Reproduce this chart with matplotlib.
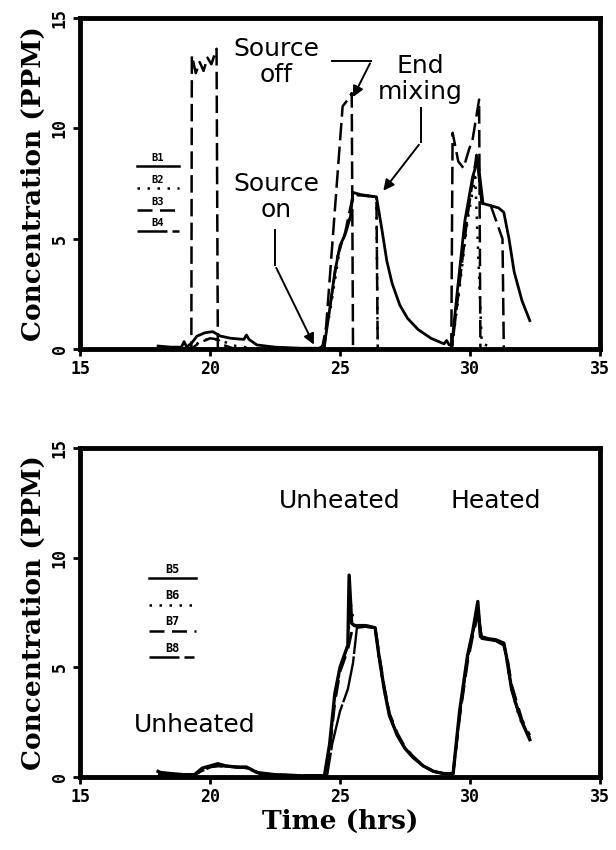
import matplotlib
matplotlib.use("Agg")
import matplotlib.pyplot as plt

# ---- top panel: runs B1-B4 ----
b1_t = [18.0, 18.5, 18.9, 19.0, 19.1, 19.3, 19.5, 19.8, 20.1, 20.4, 20.8, 21.3, 21.4, 21.5,
        21.8, 22.5, 23.5, 24.2, 24.4, 24.6, 24.8, 25.0, 25.2, 25.4, 25.5, 25.8, 26.1, 26.4,
        26.6, 26.8, 27.0, 27.3, 27.6, 28.0, 28.5, 29.0, 29.1, 29.2, 29.3, 29.5, 29.8, 30.1,
        30.3, 30.5, 30.8, 31.1, 31.3, 31.5, 31.7, 32.0, 32.3]
b1_c = [0.15, 0.1, 0.1, 0.35, 0.1, 0.3, 0.6, 0.75, 0.8, 0.6, 0.5, 0.45, 0.65, 0.45,
        0.2, 0.1, 0.05, 0.05, 0.2, 1.8, 3.5, 4.7, 5.2, 6.0, 7.1, 7.0, 6.95, 6.9,
        5.5, 4.0, 3.0, 2.0, 1.4, 0.9, 0.5, 0.25, 0.4, 0.2, 0.2, 2.5, 5.8, 7.8,
        8.6, 6.6, 6.5, 6.4, 6.2, 5.0, 3.5, 2.2, 1.3]

b2_t = [18.0, 19.3, 19.6, 20.0, 20.4, 21.0, 22.0, 24.3, 24.6, 25.0, 25.4, 25.5, 26.4,
        26.45, 29.3, 29.6, 29.9, 30.2, 30.45, 30.6, 31.0, 32.0]
b2_c = [0.0, 0.05, 0.35, 0.5, 0.4, 0.15, 0.0, 0.0, 1.6, 4.6, 6.0, 7.0, 6.9,
        0.0, 0.0, 2.8, 5.8, 7.8, 0.3, 0.2, 0.0, 0.0]

b3_t = [18.0, 19.28, 19.3, 19.45, 19.6, 19.75, 19.9, 20.05, 20.25, 20.3, 24.3, 24.4,
        25.1, 25.3, 25.45, 25.5, 29.28, 29.33, 29.55, 29.75, 29.95, 30.1, 30.35, 30.4, 32.0]
b3_c = [0.0, 0.0, 13.3, 12.5, 13.0, 12.6, 13.2, 12.9, 13.6, 0.0, 0.0, 0.0,
        11.0, 11.3, 11.6, 0.0, 0.0, 9.8, 8.5, 8.2, 9.0, 9.5, 11.3, 0.0, 0.0]

b4_t = [18.0, 19.3, 19.6, 20.0, 20.3, 20.5, 21.0, 24.3, 24.6, 24.9, 25.2, 25.5, 26.4,
        26.45, 29.3, 29.6, 29.9, 30.25, 30.45, 30.8, 31.25, 31.3, 32.0]
b4_c = [0.0, 0.05, 0.3, 0.5, 0.45, 0.2, 0.0, 0.0, 1.8, 4.2, 5.3, 7.0, 6.9,
        0.0, 0.0, 3.0, 6.0, 8.8, 6.6, 6.5, 5.0, 0.0, 0.0]

# ---- bottom panel: runs B5-B8 ----
b5_t = [18.0, 18.1, 18.5, 19.0, 19.4, 19.7, 20.0, 20.3, 20.6, 21.0, 21.4, 21.8, 22.5,
        23.5, 24.0, 24.4, 24.6, 24.8, 25.0, 25.15, 25.3, 25.35, 25.45, 25.55, 26.0, 26.35,
        26.5, 26.7, 26.9, 27.2, 27.5, 27.8, 28.2, 28.6, 29.0, 29.35, 29.6, 29.9, 30.1,
        30.3, 30.4, 30.7, 31.0, 31.3, 31.4, 31.6, 31.8, 32.0, 32.3]
b5_c = [0.25, 0.2, 0.15, 0.1, 0.1, 0.4, 0.5, 0.6, 0.5, 0.45, 0.45, 0.2, 0.1,
        0.05, 0.05, 0.05, 1.5, 3.8, 5.0, 5.5, 6.0, 9.2, 7.0, 6.9, 6.9, 6.8,
        5.5, 4.0, 2.8, 1.9, 1.3, 0.9, 0.5, 0.25, 0.15, 0.15, 3.0, 5.5, 6.6,
        8.0, 6.4, 6.3, 6.25, 6.1, 5.5, 4.0, 3.2, 2.5, 1.7]

b6_t = [18.0, 19.4, 20.0, 20.3, 21.0, 21.5, 22.0, 24.4, 24.6, 24.8, 25.0, 25.3, 25.4,
        25.55, 26.0, 26.35, 26.5, 26.7, 26.9, 27.2, 27.5, 27.8, 28.2, 28.6, 29.0, 29.35,
        29.6, 29.9, 30.1, 30.3, 30.4, 30.7, 31.0, 31.3, 31.4, 31.6, 31.8, 32.0, 32.3]
b6_c = [0.1, 0.1, 0.5, 0.55, 0.45, 0.4, 0.1, 0.05, 1.4, 3.6, 4.9, 6.0, 8.0,
        6.9, 6.9, 6.8, 5.4, 3.9, 2.8, 1.9, 1.3, 0.9, 0.5, 0.25, 0.15, 0.15,
        2.9, 5.4, 6.5, 7.6, 6.4, 6.3, 6.2, 6.1, 5.4, 4.0, 3.1, 2.4, 1.8]

b7_t = [18.0, 19.4, 20.0, 20.3, 21.0, 21.5, 22.0, 24.4, 24.6, 24.8, 25.0, 25.3, 25.5,
        26.0, 26.35, 26.5, 26.7, 26.9, 27.2, 27.5, 27.8, 28.2, 28.6, 29.0, 29.35, 29.6,
        29.9, 30.1, 30.3, 30.45, 30.7, 31.0, 31.3, 31.45, 31.6, 31.8, 32.0, 32.3]
b7_c = [0.1, 0.1, 0.45, 0.5, 0.45, 0.4, 0.1, 0.05, 1.2, 3.4, 4.8, 5.8, 6.9,
        6.85, 6.8, 5.6, 4.1, 2.9, 2.0, 1.35, 0.95, 0.5, 0.25, 0.15, 0.15, 2.7,
        5.2, 6.4, 7.4, 6.35, 6.3, 6.2, 6.0, 5.3, 4.2, 3.4, 2.6, 1.9]

b8_t = [18.0, 19.4, 20.0, 20.3, 21.0, 21.5, 22.0, 24.5, 24.7, 25.0, 25.3, 25.5, 25.65,
        26.0, 26.35, 26.5, 26.7, 26.9, 27.2, 27.5, 27.8, 28.2, 28.6, 29.0, 29.35, 29.6,
        29.9, 30.1, 30.3, 30.45, 30.7, 31.0, 31.3, 31.4, 31.6, 31.8, 32.0, 32.3]
b8_c = [0.1, 0.1, 0.45, 0.5, 0.45, 0.4, 0.1, 0.05, 1.5, 3.0, 4.0, 5.2, 6.8,
        6.85, 6.8, 5.5, 4.0, 2.8, 1.9, 1.3, 0.9, 0.5, 0.25, 0.15, 0.15, 2.8,
        5.3, 6.5, 7.8, 6.3, 6.25, 6.2, 6.1, 5.5, 4.0, 3.2, 2.5, 1.8]

top_runs = ["B1", "B2", "B3", "B4"]
bottom_runs = ["B5", "B6", "B7", "B8"]
x_ticks = [15, 20, 25, 30, 35]
y_ticks = [0, 5, 10, 15]

styles = ["-", (0, (1, 3)), (0, (6, 3)), (0, (12, 2, 4, 2))]
legend_y_top = [8.3, 7.3, 6.3, 5.35]
legend_y_bot = [9.05, 7.85, 6.65, 5.45]

tick_font = dict(family="DejaVu Sans Mono", weight="bold", size=12)
label_font = dict(family="DejaVu Serif", weight="bold", size=19)
note_font = dict(family="DejaVu Sans", size=18)

fig = plt.figure(figsize=(6.16, 8.5), dpi=100)
ax1 = fig.add_axes([0.13, 0.589, 0.844, 0.39])
ax2 = fig.add_axes([0.13, 0.086, 0.844, 0.387])


def style_axes(ax):
    ax.set_xlim(15, 35)
    ax.set_ylim(0, 15)
    ax.set_xticks(x_ticks)
    ax.set_yticks(y_ticks)
    ax.set_xticklabels([str(t) for t in x_ticks], fontdict=tick_font)
    ax.set_yticklabels([str(t) for t in y_ticks], fontdict=tick_font,
                       rotation=90, va="center")
    for s in ax.spines.values():
        s.set_linewidth(3.5)
    ax.tick_params(direction="out", length=5, width=2, pad=3)
    ax.set_ylabel("Concentration (PPM)", fontdict=label_font, labelpad=4)


def draw_key(ax, names, ys, x0, x1, fs):
    for name, st, y in zip(names, styles, ys):
        ax.plot([x0, x1], [y, y], color="black", linestyle=st, lw=1.8)
        ax.text((x0 + x1) / 2, y + 0.12, name, ha="center", va="bottom",
                family="DejaVu Sans Mono", weight="bold", fontsize=fs)


# top panel
ax1.plot(b1_t, b1_c, color="black", lw=2.0, linestyle=styles[0])
ax1.plot(b2_t, b2_c, color="black", lw=1.8, linestyle=styles[1])
ax1.plot(b3_t, b3_c, color="black", lw=1.8, linestyle=(0, (7, 2.5)))
ax1.plot(b4_t, b4_c, color="black", lw=1.8, linestyle=(0, (7, 2.5)))
style_axes(ax1)
draw_key(ax1, top_runs, legend_y_top, 17.2, 18.8, 7.5)

arrow = dict(arrowstyle="-|>", color="black", lw=1.4, mutation_scale=16)
ax1.text(22.54, 13.0, "Source\noff", ha="center", va="center",
         linespacing=1.1, **note_font)
ax1.plot([24.7, 26.2], [13.05, 13.05], color="black", lw=1.4)
ax1.annotate("", xy=(25.45, 11.3), xytext=(26.2, 13.05), arrowprops=arrow)
ax1.text(28.1, 12.25, "End\nmixing", ha="center", va="center",
         linespacing=1.1, **note_font)
ax1.plot([28.1, 28.1], [10.9, 9.36], color="black", lw=1.4)
ax1.annotate("", xy=(26.6, 7.08), xytext=(28.1, 9.36), arrowprops=arrow)
ax1.text(22.54, 6.9, "Source\non", ha="center", va="center",
         linespacing=1.1, **note_font)
ax1.plot([22.5, 22.5], [5.4, 3.8], color="black", lw=1.4)
ax1.annotate("", xy=(24.04, 0.1), xytext=(22.5, 3.8), arrowprops=arrow)

# bottom panel
ax2.plot(b5_t, b5_c, color="black", lw=2.4, linestyle=styles[0])
ax2.plot(b6_t, b6_c, color="black", lw=1.8, linestyle=styles[1])
ax2.plot(b7_t, b7_c, color="black", lw=2.0, linestyle=styles[2])
ax2.plot(b8_t, b8_c, color="black", lw=1.7, linestyle=(0, (20, 1)))
style_axes(ax2)
draw_key(ax2, bottom_runs, legend_y_bot, 17.65, 19.45, 8.5)
ax2.text(25.0, 12.6, "Unheated", ha="center", va="center", **note_font)
ax2.text(31.0, 12.6, "Heated", ha="center", va="center", **note_font)
ax2.text(19.4, 2.35, "Unheated", ha="center", va="center", **note_font)
ax2.set_xlabel("Time (hrs)", fontdict=label_font, labelpad=2)

fig.savefig("out.png", dpi=100)
